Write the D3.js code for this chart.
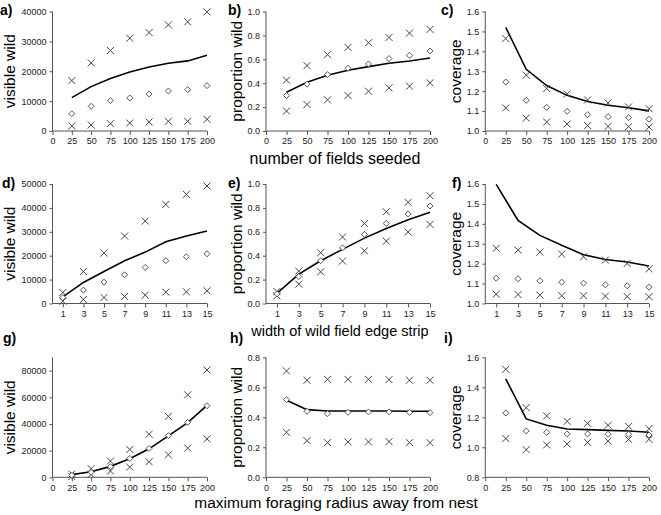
<!DOCTYPE html>
<html><head><meta charset="utf-8">
<script src="https://cdn.jsdelivr.net/npm/d3@7/dist/d3.min.js"></script>
<style>
body{margin:0;background:#fff;}
svg text{font-family:"Liberation Sans",Arial,sans-serif;}
</style>
</head><body>
<svg id="chart" width="661" height="515"></svg>
<script>
// ---------- data ----------
const fieldsX = [25,50,75,100,125,150,175,200];
const widthX  = [1,3,5,7,9,11,13,15];
const radiusX = [25,50,75,100,125,150,175,200];

// a) visible wild vs number of fields seeded
const aUpper = [16870,22790,26930,31060,32960,35530,36540,39890];
const aMean  = [5810,8270,10170,11060,12400,13410,13850,15200];
const aLower = [1680,2010,2460,2680,3020,3240,3240,3910];
const aLine  = [11170,14860,17540,19780,21450,22680,23460,25360];
// b) proportion wild vs number of fields seeded
const bUpper = [0.425,0.547,0.639,0.700,0.739,0.783,0.819,0.850];
const bMean  = [0.297,0.392,0.472,0.525,0.561,0.606,0.633,0.669];
const bLower = [0.167,0.222,0.261,0.297,0.333,0.361,0.375,0.403];
const bLine  = [0.325,0.408,0.467,0.508,0.539,0.567,0.586,0.611];
// c) coverage vs number of fields seeded
const cUpper = [1.464,1.280,1.213,1.186,1.156,1.141,1.121,1.112];
const cMean  = [1.246,1.154,1.119,1.099,1.082,1.072,1.067,1.059];
const cLower = [1.116,1.065,1.045,1.035,1.027,1.023,1.022,1.020];
const cLine  = [1.520,1.310,1.228,1.179,1.148,1.129,1.117,1.101];
// d) visible wild vs width of edge strip
const dUpper = [4610,13400,21090,28210,34500,41480,45670,49160];
const dMean  = [2510,5590,8940,12010,15080,17880,19550,20810];
const dLower = [980,1680,2510,2930,3490,4750,4890,5310];
const dLine  = [2790,8800,13410,17880,21510,25840,28210,30310];
// e) proportion wild vs width of edge strip
const eUpper = [0.101,0.271,0.425,0.556,0.670,0.768,0.846,0.902];
const eMean  = [0.081,0.226,0.358,0.466,0.578,0.670,0.749,0.816];
const eLower = [0.064,0.162,0.265,0.355,0.441,0.522,0.598,0.662];
const eLine  = [0.084,0.246,0.358,0.453,0.547,0.628,0.701,0.763];
// f) coverage vs width of edge strip
const fUpper = [1.277,1.268,1.258,1.248,1.235,1.218,1.201,1.174];
const fMean  = [1.127,1.124,1.114,1.107,1.102,1.094,1.089,1.082];
const fLower = [1.047,1.045,1.042,1.039,1.039,1.037,1.035,1.034];
const fLine  = [1.598,1.417,1.342,1.292,1.245,1.221,1.208,1.188];
// g) visible wild vs foraging radius
const gUpper = [2480,6460,12170,20870,32300,45710,61860,80500];
const gMean  = [1490,3730,7950,14160,21610,31300,41240,53660];
const gLower = [500,2240,4720,7700,11680,16890,21860,28820];
const gLine  = [1990,4220,8200,13910,21370,31060,40990,53910];
// h) proportion wild vs foraging radius
const hUpper = [0.709,0.647,0.653,0.653,0.653,0.651,0.647,0.647];
const hMean  = [0.518,0.440,0.424,0.433,0.436,0.436,0.433,0.431];
const hLower = [0.300,0.244,0.231,0.236,0.236,0.238,0.231,0.231];
const hLine  = [0.513,0.451,0.442,0.442,0.442,0.442,0.440,0.440];
// i) coverage vs foraging radius
const iUpper = [1.520,1.264,1.209,1.173,1.160,1.147,1.140,1.124];
const iMean  = [1.229,1.109,1.100,1.089,1.089,1.087,1.087,1.082];
const iLower = [1.058,0.984,1.016,1.022,1.033,1.042,1.053,1.053];
const iLine  = [1.456,1.189,1.147,1.122,1.118,1.113,1.109,1.100];

// tick labels
const ticks200 = [0,25,50,75,100,125,150,175,200];
const ticksWidth = [1,3,5,7,9,11,13,15];
const yTicksA = [0,10000,20000,30000,40000];
const yTicksProp = [0,0.2,0.4,0.6,0.8,1.0];
const yTicksCov = [1.0,1.1,1.2,1.3,1.4,1.5,1.6];
const yTicksD = [0,10000,20000,30000,40000,50000];
const yTicksG = [0,20000,40000,60000,80000];
const yTicksH = [0,0.2,0.4,0.6,0.8];
const yTicksI = [0.8,1.0,1.2,1.4,1.6];

const xTitles = ["number of fields seeded","width of wild field edge strip","maximum foraging radius away from nest"];

// ---------- layout ----------
const rows = [{top:11.5,bottom:131},{top:184,bottom:303.5},{top:357.3,bottom:477.3}];
const cols = [
  {x0:52.5,x1:207, ytx:15},
  {x0:266, x1:430, ytx:242},
  {x0:485.3,x1:649,ytx:461}
];

const panels = [
  {id:"a)",r:0,c:0,xs:fieldsX,xd:[0,200],xt:ticks200,yd:[0,40000],yt:yTicksA,fmt:d3.format("d"),yl:"visible wild",s:[aUpper,aMean,aLower,aLine],lx:0},
  {id:"b)",r:0,c:1,xs:fieldsX,xd:[0,200],xt:ticks200,yd:[0,1],yt:yTicksProp,fmt:d3.format(".1f"),yl:"proportion wild",s:[bUpper,bMean,bLower,bLine],lx:228},
  {id:"c)",r:0,c:2,xs:fieldsX,xd:[0,200],xt:ticks200,yd:[1,1.6],yt:yTicksCov,fmt:d3.format(".1f"),yl:"coverage",s:[cUpper,cMean,cLower,cLine],lx:441},
  {id:"d)",r:1,c:0,xs:widthX,xd:[0,15],xt:ticksWidth,yd:[0,50000],yt:yTicksD,fmt:d3.format("d"),yl:"visible wild",s:[dUpper,dMean,dLower,dLine],lx:2},
  {id:"e)",r:1,c:1,xs:widthX,xd:[0,15],xt:ticksWidth,yd:[0,1],yt:yTicksProp,fmt:d3.format(".1f"),yl:"proportion wild",s:[eUpper,eMean,eLower,eLine],lx:228},
  {id:"f)",r:1,c:2,xs:widthX,xd:[0,15],xt:ticksWidth,yd:[1,1.6],yt:yTicksCov,fmt:d3.format(".1f"),yl:"coverage",s:[fUpper,fMean,fLower,fLine],lx:452},
  {id:"g)",r:2,c:0,xs:radiusX,xd:[0,200],xt:ticks200,yd:[0,90000],yt:yTicksG,fmt:d3.format("d"),yl:"visible wild",s:[gUpper,gMean,gLower,gLine],lx:3},
  {id:"h)",r:2,c:1,xs:radiusX,xd:[0,200],xt:ticks200,yd:[0,0.8],yt:yTicksH,fmt:d3.format(".1f"),yl:"proportion wild",s:[hUpper,hMean,hLower,hLine],lx:230},
  {id:"i)",r:2,c:2,xs:radiusX,xd:[0,200],xt:ticks200,yd:[0.8,1.6],yt:yTicksI,fmt:d3.format(".1f"),yl:"coverage",s:[iUpper,iMean,iLower,iLine],lx:444}
];
const labelY = [15, 188, 343];

const svg = d3.select("#chart");
const axisColor = "#555";
const markColor = "#444";

panels.forEach(p => {
  const R = rows[p.r], C = cols[p.c];
  const x = d3.scaleLinear().domain(p.xd).range([C.x0, C.x1]);
  const y = d3.scaleLinear().domain(p.yd).range([R.bottom, R.top]);
  const g = svg.append("g");

  // axes
  const ya = g.append("g").attr("transform",`translate(${C.x0},0)`)
    .call(d3.axisLeft(y).tickValues(p.yt).tickFormat(p.fmt).tickSize(3).tickPadding(3));
  const xa = g.append("g").attr("transform",`translate(0,${R.bottom})`)
    .call(d3.axisBottom(x).tickValues(p.xt).tickSize(4).tickPadding(3).tickFormat(d3.format("d")));
  [ya,xa].forEach(a=>{
    a.selectAll("path.domain").attr("stroke",axisColor).attr("stroke-width",1);
    a.selectAll(".tick line").attr("stroke",axisColor);
    a.selectAll(".tick text").attr("fill","#222").style("font-size","9px").style("font-family","'Liberation Sans',Arial,sans-serif");
  });
  ya.select("path.domain").attr("d",`M0,${R.top}V${R.bottom}`);
  xa.select("path.domain").attr("d",`M${C.x0},0H${C.x1}`);

  // line
  const line = d3.line().x((d,i)=>x(p.xs[i])).y(d=>y(d));
  g.append("path").datum(p.s[3]).attr("d",line).attr("fill","none").attr("stroke","#000").attr("stroke-width",1.6);

  // X markers (upper and lower)
  [p.s[0],p.s[2]].forEach(arr=>{
    g.selectAll(null).data(arr).enter().append("path")
      .attr("transform",(d,i)=>`translate(${x(p.xs[i])},${y(d)})`)
      .attr("d","M-3.5,-3.5L3.5,3.5M-3.5,3.5L3.5,-3.5")
      .attr("stroke",markColor).attr("stroke-width",1).attr("fill","none");
  });
  // diamonds (mean)
  g.selectAll(null).data(p.s[1]).enter().append("path")
    .attr("transform",(d,i)=>`translate(${x(p.xs[i])},${y(d)})`)
    .attr("d","M0,-3L3,0L0,3L-3,0Z")
    .attr("stroke",markColor).attr("stroke-width",0.9).attr("fill","#fff");

  // y title
  const cy = (R.top+R.bottom)/2;
  g.append("text").attr("transform",`translate(${C.ytx},${cy}) rotate(-90)`)
    .attr("text-anchor","middle").style("font-size","15.5px").attr("fill","#000").text(p.yl);
  // panel label
  g.append("text").attr("x",p.lx).attr("y",labelY[p.r]).style("font-size","14px").style("font-weight","bold").text(p.id);
});

// x titles
const xTitleY = [164, 336, 508];
const xTitleX = [335, 340, 336];
const xTitleSize = ["16px","14.5px","15.5px"];
xTitles.forEach((t,i)=>{
  svg.append("text").attr("x",xTitleX[i]).attr("y",xTitleY[i]).attr("text-anchor","middle")
    .style("font-size",xTitleSize[i]).attr("fill","#000").text(t);
});
</script>
</body></html>
